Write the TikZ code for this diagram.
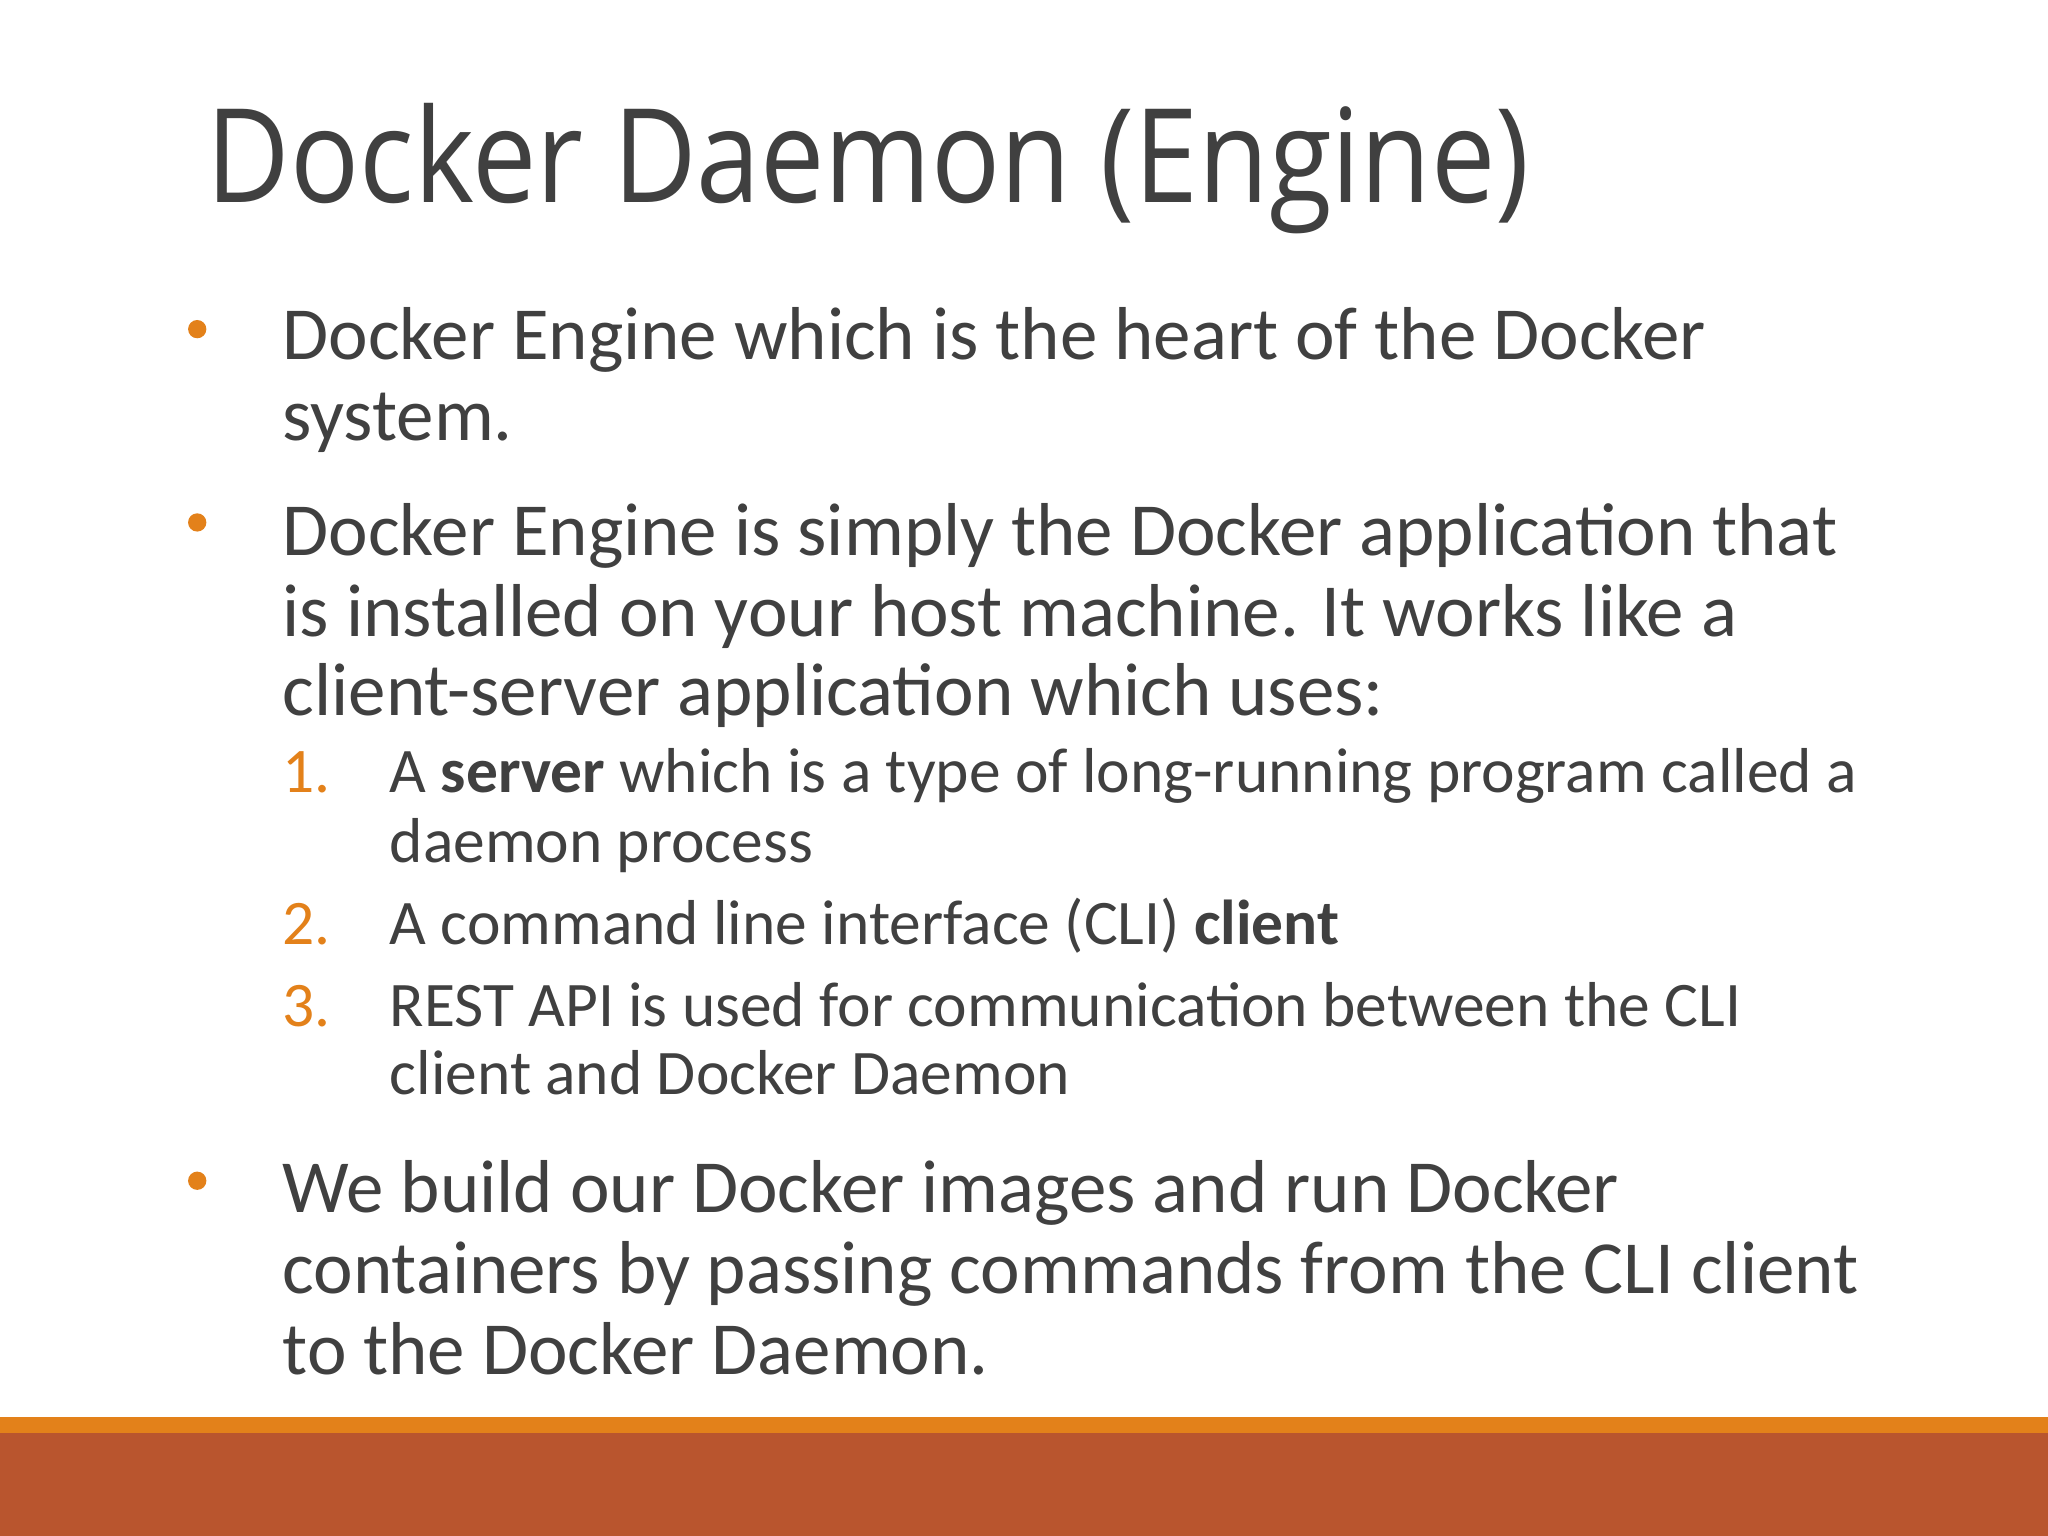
\documentclass[tikz,border=0pt]{standalone}
\usepackage{fontspec}
\setmainfont{Carlito}
\newfontfamily\titlefont{Open Sans}
\definecolor{txt}{HTML}{404040}
\definecolor{orng}{HTML}{E3811A}
\definecolor{rust}{HTML}{B9552E}
\begin{document}
\begin{tikzpicture}[x=0.5pt,y=-0.5pt,
  body/.style={anchor=base west,inner sep=0,text=txt,font=\fontsize{28.7}{28.7}\selectfont},
  sub/.style={anchor=base west,inner sep=0,text=txt,font=\fontsize{24.3}{24.3}\selectfont},
  num/.style={anchor=base west,inner sep=0,text=orng,font=\fontsize{24.3}{24.3}\selectfont},
  dot/.style={circle,fill=orng,inner sep=0,minimum size=7pt}]
\useasboundingbox (0,0) rectangle (1568,1176);
\fill[white] (0,0) rectangle (1568,1176);
\fill[orng] (0,1085) rectangle (1568,1097);
\fill[rust] (0,1097) rectangle (1568,1176);
\node[anchor=base west,inner sep=0,text=txt,font=\titlefont\fontsize{50}{50}\selectfont] (title) at (158,155) {\scalebox{0.878}[1]{Docker Daemon (Engine)}};
\node[dot] (b1) at (151,252) {};
\node[dot] (b2) at (151,400) {};
\node[dot] (b3) at (151,904) {};
\node[body] (l1) at (216,275) {Docker Engine which is the heart of the Docker};
\node[body] (l2) at (216,337) {system.};
\node[body] (l3) at (216,425) {Docker Engine is simply the Docker application that};
\node[body] (l4) at (216,487) {is installed on your host machine. It works like a};
\node[body] (l5) at (216,548) {client-server application which uses:};
\node[num] (n1) at (216,607) {1.};
\node[sub] (s1) at (298,607) {A \textbf{server} which is a type of long-running program called a};
\node[sub] (s2) at (298,660) {daemon process};
\node[num] (n2) at (216,723) {2.};
\node[sub] (s3) at (298,723) {A command line interface (CLI) \textbf{client}};
\node[num] (n3) at (216,786) {3.};
\node[sub] (s4) at (298,786) {REST API is used for communication between the CLI};
\node[sub] (s5) at (298,838) {client and Docker Daemon};
\node[body] (l6) at (216,928) {We build our Docker images and run Docker};
\node[body] (l7) at (216,990) {containers by passing commands from the CLI client};
\node[body] (l8) at (216,1052) {to the Docker Daemon.};
\end{tikzpicture}
\end{document}
